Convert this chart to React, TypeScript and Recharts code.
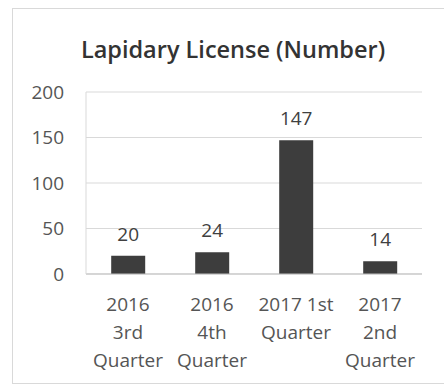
import React from "react";
import { BarChart, Bar, XAxis, YAxis, CartesianGrid, LabelList } from "recharts";

const categories = ["2016 3rd Quarter", "2016 4th Quarter", "2017 1st Quarter", "2017 2nd Quarter"];
const categoryLines = [["2016", "3rd", "Quarter"], ["2016", "4th", "Quarter"], ["2017 1st", "Quarter"], ["2017", "2nd", "Quarter"]];
const values = [20, 24, 147, 14];
const yTicks = [0, 50, 100, 150, 200];

const data = categories.map((c, i) => ({ name: c, value: values[i], idx: i }));

const FONT = "'Open Sans', 'Liberation Sans', sans-serif";

const XTick = (props: any) => {
  const { x, y, index } = props;
  const lines = categoryLines[index] || [];
  return (
    <text x={x} y={y} textAnchor="middle" fill="#555" fontSize={19} fontFamily={FONT}>
      {lines.map((l: string, i: number) => (
        <tspan key={i} x={x} dy={i === 0 ? 29 : 28}>{l}</tspan>
      ))}
    </text>
  );
};

export default function App() {
  return (
    <div style={{ position: "absolute", left: 0, top: 0, width: 444, height: 386, background: "#fff" }}>
      <div style={{ position: "absolute", left: 12, top: 8, width: 440, height: 374, border: "1px solid #d9d9d9" }} />
      <div style={{ position: "absolute", left: 0, top: 33, width: 466, textAlign: "center", fontFamily: FONT, fontWeight: 600, fontSize: 23.5, color: "#333" }}>
        Lapidary License (Number)
      </div>
      <div style={{ position: "absolute", left: 0, top: 0 }}>
        <BarChart width={444} height={386} data={data} margin={{ top: 92, right: 22, bottom: 0, left: 0 }} barCategoryGap="30%">
          <CartesianGrid vertical={false} stroke="#d9d9d9" />
          <XAxis dataKey="name" height={112} interval={0} tick={<XTick />} tickLine={false} axisLine={{ stroke: "#bfbfbf" }} />
          <YAxis width={86} domain={[0, 200]} ticks={yTicks} tickSize={0} tickMargin={22} axisLine={{ stroke: "#d9d9d9" }} tick={{ fill: "#555", fontSize: 19, fontFamily: FONT }} />
          <Bar dataKey="value" fill="#3d3d3d" isAnimationActive={false}>
            <LabelList dataKey="value" position="top" offset={15} fill="#404040" fontSize={19} fontFamily={FONT} />
          </Bar>
        </BarChart>
      </div>
    </div>
  );
}
